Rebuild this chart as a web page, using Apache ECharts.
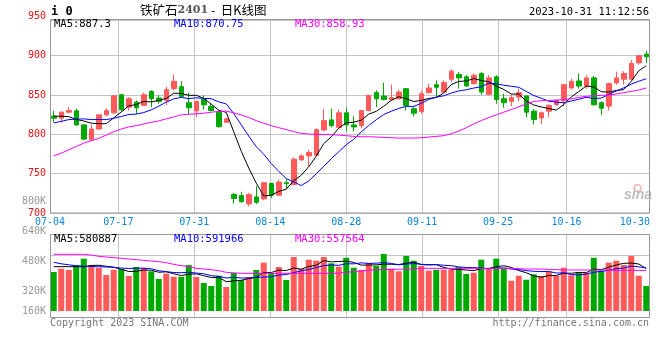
<!DOCTYPE html>
<html><head><meta charset="utf-8">
<script src="https://cdn.jsdelivr.net/npm/echarts@6/dist/echarts.min.js"></script>
<style>html,body{margin:0;padding:0;background:#fff}#c{width:660px;height:360px}</style>
</head><body><div id="c"></div>
<script>
const dates = ['07-04','07-05','07-06','07-07','07-10','07-11','07-12','07-13','07-14','07-17','07-18','07-19','07-20','07-21','07-24','07-25','07-26','07-27','07-28','07-31',
'08-01','08-02','08-03','08-04','08-07','08-08','08-09','08-10','08-11','08-14','08-15','08-16','08-17','08-18','08-21','08-22','08-23','08-24','08-25','08-28','08-29','08-30','08-31',
'09-01','09-04','09-05','09-06','09-07','09-08','09-11','09-12','09-13','09-14','09-15','09-18','09-19','09-20','09-21','09-22','09-25','09-26','09-27','09-28',
'10-09','10-10','10-11','10-12','10-13','10-16','10-17','10-18','10-19','10-20','10-23','10-24','10-25','10-26','10-27','10-30','10-31'];
const labelDates = ['07-04','07-17','07-31','08-14','08-28','09-11','09-25','10-16','10-30'];
const gridDates = ['07-17','07-31','08-14','08-28','09-11','09-25','10-16'];

const opens = [823.1,820.5,828.2,829.9,812.0,793.2,806.8,824.8,827.4,850.4,834.6,841.0,836.8,854.7,846.2,843.2,858.1,860.7,840.2,829.9,
844.4,835.5,828.2,815.4,723.5,722.2,711.5,720.5,717.9,737.6,722.6,738.5,736.3,767.5,772.6,773.5,805.6,818.4,809.0,827.4,
812.0,811.1,830.3,853.0,848.7,844.0,845.3,858.1,832.5,829.1,853.0,863.2,853.8,870.1,876.1,873.1,864.5,877.4,850.9,873.1,
845.3,841.9,847.4,848.7,829.5,820.9,829.5,838.0,843.2,859.0,867.9,861.5,871.8,840.2,835.9,865.4,870.1,870.1,891.0,902.1];
const closes = [820.5,828.2,830.3,812.0,794.0,806.8,824.8,830.3,849.1,831.2,845.3,833.8,850.4,845.3,841.9,856.8,867.5,848.3,833.8,841.9,
837.6,830.3,809.8,819.7,718.4,714.5,723.5,713.7,738.5,722.6,739.3,737.2,768.4,772.6,776.9,806.0,817.5,811.1,827.4,812.0,
809.4,830.3,849.6,845.3,844.4,846.6,853.8,836.8,826.9,851.7,859.0,859.8,865.8,880.3,871.8,861.5,875.2,853.8,871.8,844.4,
840.2,846.6,853.0,828.2,818.8,827.4,836.8,843.2,863.2,867.5,861.5,871.8,837.6,833.3,864.5,871.8,877.4,890.2,900.0,898.7];
const lows = [815.4,815.0,827.4,811.1,792.5,791.9,806.0,823.1,826.1,830.3,830.3,826.1,835.9,834.6,838.9,836.8,856.0,847.4,824.8,821.8,
831.6,829.1,808.5,814.5,712.0,712.8,708.5,711.5,716.2,719.2,722.2,730.8,735.1,766.2,759.0,773.0,803.8,809.0,807.7,803.8,
803.8,807.7,829.1,834.6,843.2,843.2,844.4,830.3,822.6,826.5,851.7,847.4,853.0,866.7,858.1,860.3,863.2,850.4,849.6,838.9,
833.8,835.9,841.9,821.8,812.4,813.2,821.8,835.9,835.9,857.3,858.1,858.1,836.8,824.8,830.3,863.2,863.2,868.8,888.9,891.0];
const highs = [829.9,829.0,834.6,832.5,813.2,812.0,825.0,833.3,849.6,851.3,847.4,843.2,853.0,856.0,849.6,860.3,876.1,867.5,853.0,843.2,
849.6,838.9,830.3,821.0,725.6,726.9,725.6,734.2,739.3,738.5,742.7,742.7,770.5,774.8,780.3,807.7,832.5,832.5,831.2,834.2,
823.1,831.0,850.4,856.0,865.8,863.2,856.8,859.0,834.6,855.6,864.5,868.8,868.8,882.9,879.5,875.2,877.4,879.5,875.2,875.2,
851.7,850.4,858.1,849.6,832.5,829.1,838.0,844.4,863.7,870.9,877.4,875.2,874.4,841.9,865.8,879.5,880.3,894.4,900.9,906.0];

const ma5 = [823.1,823.1,822.6,819.0,817.0,814.26,813.58,813.58,821.0,828.44,836.14,837.94,841.96,841.2,843.34,845.64,852.38,851.96,849.66,849.66,
845.82,838.38,830.68,827.86,803.16,778.54,757.18,737.96,721.72,722.56,727.52,730.26,741.2,748.02,758.88,772.22,788.28,796.82,807.78,814.8,
815.48,818.04,825.74,829.32,835.8,843.24,847.94,845.38,841.7,843.16,845.64,846.84,852.64,863.32,867.34,867.84,870.92,868.52,866.82,861.34,
857.08,851.36,851.2,842.48,837.36,834.8,832.84,830.88,837.88,847.62,854.44,861.44,860.32,854.34,853.74,855.8,856.92,867.44,880.78,887.3];
const ma10 = [814.5,816.5,818.8,819.3,819.7,818.8,818.8,818.8,820.5,822.72,825.2,825.76,827.77,831.1,835.89,840.89,845.16,846.96,845.43,846.5,
845.73,845.38,841.32,838.76,826.41,812.18,797.78,784.32,774.79,762.86,753.03,743.72,739.58,734.87,740.72,749.87,759.27,769.01,777.9,786.84,
793.85,803.16,811.28,818.55,825.3,829.36,832.99,835.56,835.51,839.48,844.44,847.39,849.01,852.51,855.25,856.74,858.88,860.58,865.07,864.34,
862.46,861.14,859.86,854.65,849.35,845.94,842.1,841.04,840.18,842.49,844.62,847.14,845.6,846.11,850.68,855.12,859.18,863.88,867.56,870.75];
const ma30 = [772.6,776.1,780.3,784.6,788.9,791.9,794.9,799.1,803.4,806.8,809.4,811.1,813.2,815.4,817.1,819.7,822.2,824.8,825.6,826.1,
826.9,828.2,829.1,829.5,827.4,824.8,821.4,817.5,814.1,811.1,808.5,806.0,803.4,801.3,800.4,800.0,800.0,799.6,799.1,798.3,
797.4,797.0,797.0,796.6,796.2,795.7,795.3,795.3,795.3,795.7,796.6,797.4,798.3,800.9,804.3,808.5,813.2,817.5,821.4,824.8,
828.2,831.6,835.0,838.5,841.9,842.7,843.2,843.6,844.0,845.3,847.0,848.3,849.1,849.6,850.0,851.3,853.0,854.7,856.4,858.93];

const volumes = [536,581,563,632,719,632,595,495,567,577,481,605,591,545,440,513,471,471,632,467,
385,344,485,330,526,426,467,563,664,518,605,426,742,581,705,691,742,655,609,732,
595,563,660,622,783,581,545,756,691,618,554,567,567,567,605,508,526,705,581,719,
577,416,485,430,504,481,540,485,595,491,536,526,732,554,664,691,632,756,485,344].map(v => v * 1000);
const volMa5 = [609,609,609,609,606.2,625.4,628.2,614.6,601.6,573.2,543,545,564.2,559.8,532.4,538.8,512,488,505.4,510.8,
485.2,459.8,462.6,402.2,414,422.2,446.8,462.4,529.2,527.6,563.4,555.2,591,574.4,611.8,629,692.2,674.8,680.4,685.8,
666.6,630.8,631.8,634.4,644.6,641.8,638.2,657.4,671.2,638.2,632.8,637.2,599.4,574.6,572,562.8,554.6,582.2,585,607.8,
621.6,599.6,555.6,525.4,482.4,463.2,488,488,521,518.4,529.4,526.6,576,567.8,602.4,633.4,654.6,659.4,645.6,580.887].map(v => v * 1000);
const volMa10 = [669,649,635,622,615,612,608,605,600,589.7,584.2,586.6,589.4,580.7,552.8,540.9,528.5,526.1,532.6,521.6,
512,485.9,475.3,453.8,462.4,453.7,453.3,462.5,465.7,470.8,492.8,501,526.7,551.8,569.7,596.2,623.7,632.9,627.4,648.8,
647.8,661.5,653.3,657.4,665.2,654.2,634.5,644.6,652.8,641.4,637.3,637.7,628.4,622.9,605.1,597.8,595.9,590.8,579.8,589.9,
592.2,577.1,568.9,555.2,545.1,542.4,543.8,521.8,523.2,500.4,496.3,507.3,532,544.4,560.4,581.4,590.6,617.7,606.7,591.966].map(v => v * 1000);
const volMa30 = [779,779,779,779,779,769,751,742,733,724,714,705,696,687,678,664,641,623,609,586,
577,568,554,531,522,518,518,518,518,518,518,518,518,518,518,518,518,518,522,531,
540,550,559,566,570,572,574,575,577,586,586,586,586,586,586,586,586,586,586,586,
586,586,582,577,577,577,572,568,563,563,563,563,563,563,563,559,558,558,558,557.564].map(v => v * 1000);

const priceMin = 700, priceMax = 950, priceStep = 50;
const volLabelMin = 160000, volLabelMax = 800000, volLabelStep = 160000;

const titleCode = 'i 0';
const titleName = ['铁矿石', '2401', ' -  日K线图'];
const stamp = '2023-10-31 11:12:56';
const priceMaText = ['MA5:887.3', 'MA10:870.75', 'MA30:858.93'];
const volMaText = ['MA5:580887', 'MA10:591966', 'MA30:557564'];
const footLeft = 'Copyright 2023 SINA.COM';
const footRight = 'http://finance.sina.com.cn';

const RED = '#ff5a5a', GREEN = '#00a800';
const MONO = 'DejaVu Sans Mono';
const labelIdx = new Set(labelDates.map(d => dates.indexOf(d)));
const gridIdx = new Set(gridDates.map(d => dates.indexOf(d)));
const gridLine = () => ({ color: '#c4c4c4', width: 1, type: 'solid' });

const chart = echarts.init(document.getElementById('c'), null, { renderer: 'canvas' });
const hiddenCat = (gi, bg) => ({ type: 'category', gridIndex: gi, data: dates, boundaryGap: bg, show: false });
const lineS = (data, color, xi, yi) => ({ type: 'line', data, xAxisIndex: xi, yAxisIndex: yi, symbol: 'none', silent: true,
  lineStyle: { color, width: 1 }, z: 5 });

chart.setOption({
  animation: false,
  backgroundColor: '#fff',
  grid: [
    { left: 50, right: 10, top: 16.4, bottom: 147 },
    { left: 50, right: 10, top: 20, bottom: 147 },
    { left: 50, right: 10, top: 234, bottom: 49 },
    { left: 50, right: 10, top: 234, bottom: 42 },
    { left: 50, right: 10, top: 201, bottom: 39 },
    { left: 50, right: 10, top: 255, bottom: 64 }
  ],
  xAxis: [
    hiddenCat(0, true),
    { type: 'category', gridIndex: 1, data: dates, boundaryGap: false, z: 3,
      axisLine: { show: false }, axisTick: { show: false },
      axisLabel: { interval: (i) => labelIdx.has(i), color: '#0f86dc', fontFamily: MONO, fontSize: 10, margin: 4,
        formatter: (v, i) => i === dates.length - 2 ? '{e|' + v + '}' : v,
        rich: { e: { padding: [0, 15, 0, 0], color: '#0f86dc', fontFamily: MONO, fontSize: 10 } } },
      splitLine: { show: true, interval: (i) => gridIdx.has(i), lineStyle: gridLine() } },
    hiddenCat(2, true),
    { type: 'category', gridIndex: 3, data: dates, boundaryGap: false, z: 3,
      axisLine: { show: false }, axisTick: { show: false }, axisLabel: { show: false },
      splitLine: { show: true, interval: (i) => gridIdx.has(i), lineStyle: gridLine() } },
    hiddenCat(4, false),
    hiddenCat(5, false)
  ],
  yAxis: [
    { type: 'value', gridIndex: 0, min: priceMin, max: priceMax, interval: priceStep,
      axisLine: { show: false }, axisTick: { show: false }, splitLine: { show: false },
      axisLabel: { color: '#ee1111', fontFamily: MONO, fontSize: 10, margin: 4 } },
    { type: 'value', gridIndex: 1, min: priceMin, max: 945.4, interval: priceStep, z: 3,
      axisLine: { show: false }, axisTick: { show: false }, axisLabel: { show: false },
      splitLine: { show: true, lineStyle: gridLine() } },
    { type: 'value', gridIndex: 2, min: 0, max: 1058000, show: false },
    { type: 'value', gridIndex: 3, min: 0, max: 1, show: false },
    { type: 'value', gridIndex: 4, min: volLabelMin, max: volLabelMax, interval: volLabelStep,
      axisLine: { show: false }, axisTick: { show: false }, splitLine: { show: false },
      axisLabel: { color: '#999', fontFamily: MONO, fontSize: 10, margin: 4,
        formatter: (v) => v === volLabelMin ? '{u|' + (v / 1000) + 'K}' : (v / 1000) + 'K',
        rich: { u: { padding: [0, 0, 20, 0], color: '#999', fontFamily: MONO, fontSize: 10 } } } },
    { type: 'value', gridIndex: 5, min: 0, max: 1, interval: 1, z: 3,
      axisLine: { show: false }, axisTick: { show: false }, axisLabel: { show: false },
      splitLine: { show: true, lineStyle: gridLine() } }
  ],
  series: [
    { type: 'candlestick', xAxisIndex: 0, yAxisIndex: 0, barWidth: 5, silent: true, z: 4,
      data: dates.map((d, i) => [opens[i], closes[i], lows[i], highs[i]]),
      itemStyle: { color: RED, color0: GREEN, borderColor: RED, borderColor0: GREEN, borderWidth: 1 } },
    lineS(ma5, '#000000', 0, 0),
    lineS(ma10, '#0000ff', 0, 0),
    lineS(ma30, '#ff00ff', 0, 0),
    { type: 'bar', xAxisIndex: 2, yAxisIndex: 2, barWidth: 6, silent: true, z: 4,
      data: volumes.map((v, i) => ({ value: v, itemStyle: { color: closes[i] >= opens[i] ? RED : GREEN } })) },
    lineS(volMa5, '#000000', 2, 2),
    lineS(volMa10, '#0000ff', 2, 2),
    lineS(volMa30, '#ff00ff', 2, 2)
  ],
  graphic: [
    { type: 'rect', z: 10, shape: { x: 50.5, y: 19.5, width: 599, height: 193.5 }, style: { fill: 'rgba(0,0,0,0)', stroke: '#999', lineWidth: 1 } },
    { type: 'rect', z: 10, shape: { x: 50.5, y: 234.5, width: 599, height: 83 }, style: { fill: 'rgba(0,0,0,0)', stroke: '#999', lineWidth: 1 } },
    { type: 'text', z: 10, x: 51, y: 12, style: { text: titleCode, font: 'bold 12px ' + MONO, fill: '#000', textVerticalAlign: 'middle' } },
    { type: 'text', z: 10, x: 140, y: 10, style: { text: '{a|' + titleName[0] + '}{b|' + titleName[1] + '}{a|' + titleName[2] + '}',
      textVerticalAlign: 'middle',
      rich: { a: { fontFamily: 'Noto Sans CJK SC', fontSize: 12.5, fill: '#000' },
              b: { fontFamily: 'DejaVu Serif', fontSize: 11, fill: '#555', fontWeight: 'bold' } } } },
    { type: 'text', z: 10, x: 649, y: 12, style: { text: stamp, font: '10.5px ' + MONO, fill: '#000', textAlign: 'right', textVerticalAlign: 'middle' } },
    { type: 'text', z: 10, x: 54, y: 24, style: { text: priceMaText[0], font: '10.5px ' + MONO, fill: '#000', textVerticalAlign: 'middle' } },
    { type: 'text', z: 10, x: 174, y: 24, style: { text: priceMaText[1], font: '10.5px ' + MONO, fill: '#0000ff', textVerticalAlign: 'middle' } },
    { type: 'text', z: 10, x: 295, y: 24, style: { text: priceMaText[2], font: '10.5px ' + MONO, fill: '#ff00ff', textVerticalAlign: 'middle' } },
    { type: 'text', z: 10, x: 54, y: 239, style: { text: volMaText[0], font: '10.5px ' + MONO, fill: '#000', textVerticalAlign: 'middle' } },
    { type: 'text', z: 10, x: 174, y: 239, style: { text: volMaText[1], font: '10.5px ' + MONO, fill: '#0000ff', textVerticalAlign: 'middle' } },
    { type: 'text', z: 10, x: 295, y: 239, style: { text: volMaText[2], font: '10.5px ' + MONO, fill: '#ff00ff', textVerticalAlign: 'middle' } },
    { type: 'text', z: 10, x: 50, y: 323.5, style: { text: footLeft, font: '10px ' + MONO, fill: '#777', textVerticalAlign: 'middle' } },
    { type: 'text', z: 10, x: 649, y: 323.5, style: { text: footRight, font: '10px ' + MONO, fill: '#777', textAlign: 'right', textVerticalAlign: 'middle' } },
    { type: 'circle', z: 3, shape: { cx: 637.5, cy: 188, r: 3.5 }, style: { fill: 'rgba(0,0,0,0)', stroke: '#f4b0b0', lineWidth: 1.5 } },
    { type: 'text', z: 3, x: 624, y: 195, style: { text: 'sina', font: 'italic bold 14px Liberation Sans', fill: '#bdbdbd', textVerticalAlign: 'middle' } }
  ]
});
</script></body></html>
